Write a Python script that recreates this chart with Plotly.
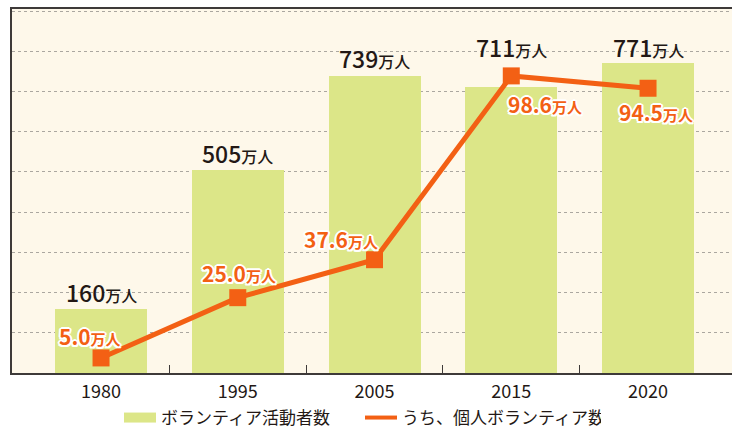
import plotly.graph_objects as go

years = ["1980", "1995", "2005", "2015", "2020"]
volunteers = [160, 505, 739, 711, 771]          # ボランティア活動者数 (万人)
individual = [5.0, 25.0, 37.6, 98.6, 94.5]      # うち、個人ボランティア数 (万人)
bar_name = "ボランティア活動者数"
line_name = "うち、個人ボランティア数"
unit = "万人"

FONT = "Noto Sans CJK JP, Noto Sans, sans-serif"
GREEN = "#DCE688"
ORANGE = "#F36014"
DARK = "#231815"
BG = "#FEF8EA"

xs = list(range(len(years)))

fig = go.Figure()
fig.add_trace(go.Bar(
    x=xs, y=volunteers, width=0.673, marker=dict(color=GREEN, line=dict(width=0)),
    showlegend=False, hoverinfo="skip",
))
fig.add_trace(go.Scatter(
    x=xs, y=individual, yaxis="y2", mode="lines+markers",
    line=dict(color=ORANGE, width=5),
    marker=dict(symbol="square", size=17, color=ORANGE),
    showlegend=False, hoverinfo="skip", cliponaxis=False,
))
# legend entries
fig.add_trace(go.Scatter(x=[None], y=[None], mode="lines", name=bar_name,
                         line=dict(color=GREEN, width=14)))
fig.add_trace(go.Scatter(x=[None], y=[None], mode="lines", name=line_name,
                         line=dict(color=ORANGE, width=4)))

# black bar labels
bar_shift = [17, 17, 18, 40, 16]
for i, v in enumerate(volunteers):
    fig.add_annotation(
        x=xs[i], y=v, xref="x", yref="y", yanchor="middle", yshift=bar_shift[i],
        text=f"{v}<span style='font-size:16px'>{unit}</span>",
        showarrow=False, font=dict(family=FONT, size=23, color=DARK, weight=500),
    )

halo = ("2px 0 0 #fff, -2px 0 0 #fff, 0 2px 0 #fff, 0 -2px 0 #fff, "
        "1.5px 1.5px 0 #fff, -1.5px -1.5px 0 #fff, 1.5px -1.5px 0 #fff, -1.5px 1.5px 0 #fff")
line_dx = [-11, 1, -34, 34, 8]
line_dy = [22, 25, 21, -28, -24]
for i, v in enumerate(individual):
    fig.add_annotation(
        x=xs[i], y=v, xref="x", yref="y2", yanchor="middle",
        xshift=line_dx[i], yshift=line_dy[i],
        text=f"{v:.1f}<span style='font-size:15px'>{unit}</span>",
        showarrow=False,
        font=dict(family=FONT, size=21, color=ORANGE, weight="bold", shadow=halo),
    )

fig.update_layout(
    width=732, height=430,
    margin=dict(l=12, r=0, t=9, b=57, autoexpand=False),
    paper_bgcolor="white", plot_bgcolor=BG,
    font=dict(family=FONT, color=DARK),
    bargap=0,
    xaxis=dict(
        range=[-0.651, 4.614], tickmode="array", tickvals=xs, ticktext=years,
        ticks="", showgrid=False, zeroline=False, ticklabelstandoff=2,
        showline=True, linecolor="#3E3A39", linewidth=1.5, mirror=True,
        tickfont=dict(family=FONT, size=18, color=DARK),
        minor=dict(tickmode="array", tickvals=[i + 0.5 for i in range(len(years) - 1)],
                   ticks="inside", ticklen=8, tickwidth=1, tickcolor="#3E3A39", showgrid=False),
    ),
    yaxis=dict(
        range=[0, 905], dtick=100, showticklabels=False, ticks="",
        showgrid=True, gridcolor="#ABA7A0", gridwidth=1, griddash="3px,3px",
        zeroline=False, showline=True, linecolor="#3E3A39", linewidth=1.5,
    ),
    yaxis2=dict(
        range=[0, 120.8], overlaying="y", side="right", visible=False,
        showgrid=False, zeroline=False,
    ),
    legend=dict(
        orientation="h", x=0.5 - 12 / 720, xanchor="center",
        yref="container", y=1 - 418 / 430, yanchor="middle",
        font=dict(family=FONT, size=17, color=DARK), bgcolor="rgba(0,0,0,0)",
        entrywidth=194, itemwidth=32,
    ),
)

fig.write_html("out.html")
